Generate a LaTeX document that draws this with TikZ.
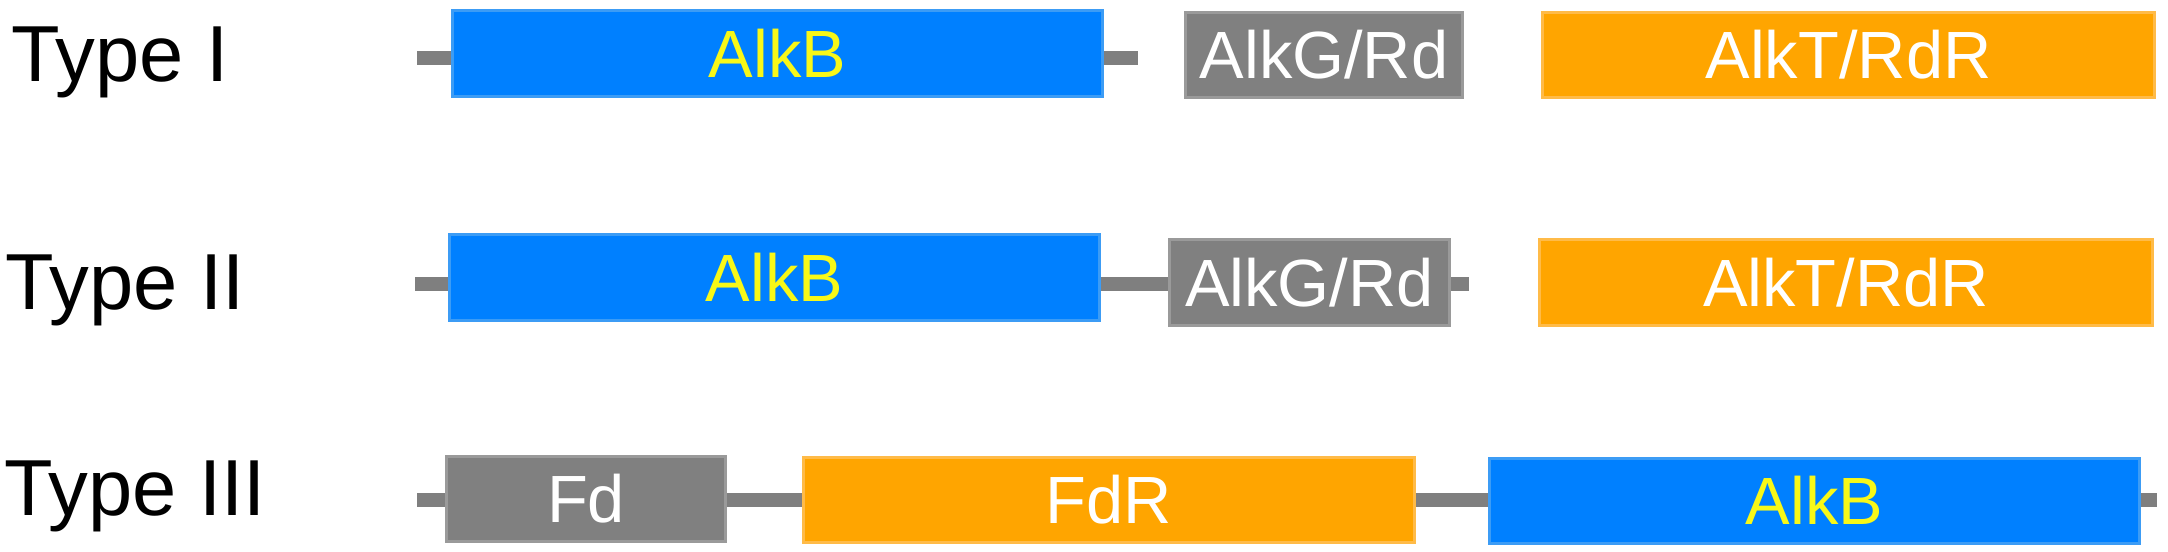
\documentclass[tikz,border=0pt]{standalone}
\usepackage{fontspec}
\setmainfont{Liberation Sans}
\usepackage{xcolor}
\usepackage{tikz}
\usetikzlibrary{positioning, backgrounds}

\definecolor{alkblue}{HTML}{0080FF}
\definecolor{alkblueedge}{HTML}{3C9CF5}
\definecolor{alkyellow}{HTML}{F8F818}
\definecolor{rdgray}{HTML}{808080}
\definecolor{rdgrayedge}{HTML}{9A9A9A}
\definecolor{rdrorange}{HTML}{FFA500}
\definecolor{rdrorangeedge}{HTML}{FFBB48}
\definecolor{linkgray}{HTML}{7F7F7F}

\begin{document}
\begin{tikzpicture}[
    x=0.01cm, y=-0.01cm,
    font=\fontsize{19}{23}\selectfont,
    % box styles
    gene_block/.style={
        draw, line width=0.85pt, inner sep=0pt, minimum height=0.85cm,
        text height=13.6pt, text depth=0pt, align=center
    },
    alkb_block/.style={
        gene_block, draw=alkblueedge, fill=alkblue, text=alkyellow
    },
    rd_block/.style={
        gene_block, draw=rdgrayedge, fill=rdgray, text=white
    },
    rdr_block/.style={
        gene_block, draw=rdrorangeedge, fill=rdrorange, text=white
    },
    type_label/.style={
        anchor=base west, inner sep=0pt, font=\fontsize{22.6}{27}\selectfont, text=black
    },
    linker/.style={
        draw=linkgray, line width=0.14cm
    }
]

    \useasboundingbox (0,0) rectangle (2168,552);
    \begin{scope}[on background layer]
        \fill[white] (0,0) rectangle (2168,552);
    \end{scope}

    % --- 1. TYPE I ---
    \node[type_label] (type_one) at (11,82) {Type I};
    \node[alkb_block, minimum width=6.50cm] (alkb_one) at (777.5,53.5) {AlkB};
    \node[rd_block, minimum width=2.77cm] (alkg_one) at (1324,55) {AlkG/Rd};
    \node[rdr_block, minimum width=6.12cm] (alkt_one) at (1848.5,55) {AlkT/RdR};
    \coordinate (stub_one_l) at (417,58);
    \coordinate (stub_one_r) at (1138,58);

    % --- 2. TYPE II ---
    \node[type_label] (type_two) at (5,310) {Type II};
    \node[alkb_block, minimum width=6.50cm] (alkb_two) at (774.5,277.5) {AlkB};
    \node[rd_block, minimum width=2.80cm] (alkg_two) at (1309.5,282.5) {AlkG/Rd};
    \node[rdr_block, minimum width=6.13cm] (alkt_two) at (1846,282.5) {AlkT/RdR};
    \coordinate (stub_two_l) at (415,284);
    \coordinate (stub_two_r) at (1469,284);

    % --- 3. TYPE III ---
    \node[type_label] (type_three) at (4,516) {Type III};
    \node[rd_block, minimum width=2.79cm] (fd_three) at (586,499) {Fd};
    \node[rdr_block, minimum width=6.11cm] (fdr_three) at (1109,500) {FdR};
    \node[alkb_block, minimum width=6.50cm] (alkb_three) at (1814.5,501) {AlkB};
    \coordinate (stub_three_l) at (417,500);
    \coordinate (stub_three_r) at (2157,500);

    % linkers behind the boxes
    \begin{scope}[on background layer]
        \draw[linker] (stub_one_l) -- (stub_one_l -| alkb_one.west);
        \draw[linker] (alkb_one.east |- stub_one_r) -- (stub_one_r);

        \draw[linker] (stub_two_l) -- (stub_two_l -| alkb_two.west);
        \draw[linker] (alkb_two.east |- stub_two_l) -- (alkg_two.west |- stub_two_l);
        \draw[linker] (alkg_two.east |- stub_two_r) -- (stub_two_r);

        \draw[linker] (stub_three_l) -- (stub_three_l -| fd_three.west);
        \draw[linker] (fd_three.east |- stub_three_l) -- (fdr_three.west |- stub_three_l);
        \draw[linker] (fdr_three.east |- stub_three_l) -- (alkb_three.west |- stub_three_l);
        \draw[linker] (alkb_three.east |- stub_three_r) -- (stub_three_r);
    \end{scope}

\end{tikzpicture}
\end{document}
